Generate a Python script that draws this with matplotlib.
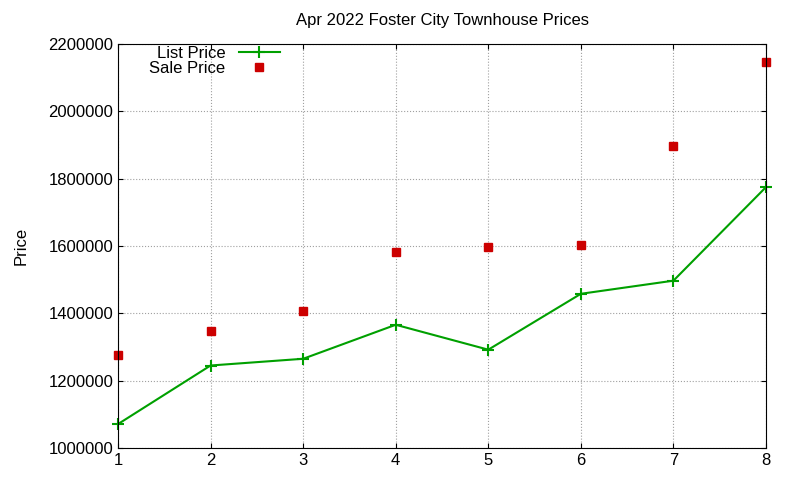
import matplotlib
matplotlib.use("Agg")
import matplotlib.pyplot as plt

plt.rcParams['font.family'] = ['Liberation Sans', 'DejaVu Sans']

months = [1, 2, 3, 4, 5, 6, 7, 8]
list_price = [1071000, 1245000, 1265000, 1366000, 1292000, 1458000, 1497000, 1775000]
sale_price = [1276000, 1348000, 1407000, 1582000, 1597000, 1603000, 1897000, 2147000]

fig = plt.figure(figsize=(8, 4.8), dpi=100)
ax = fig.add_axes([0.1475, 0.0667, 0.81, 0.8416])

ax.plot(months, list_price, color="#00a000", marker="+", markersize=8, markeredgewidth=1.5,
        linewidth=1.5, label="List Price", clip_on=False)
ax.plot(months, sale_price, color="#cc0000", marker="s", markersize=6, linestyle="none",
        label="Sale Price", clip_on=False)

ax.set_xlim(1, 8)
ax.set_ylim(1000000, 2200000)
ax.set_yticks(range(1000000, 2200001, 200000))
ax.ticklabel_format(axis="y", style="plain", useOffset=False)
ax.tick_params(direction="in", top=True, right=True, labelsize=12)
ax.grid(True, color="#a0a0a0", linestyle=":", linewidth=0.8)
ax.set_ylabel("Price", fontsize=12, labelpad=14)
ax.set_title("Apr 2022 Foster City Townhouse Prices", fontsize=12, pad=14)
ax.legend(loc="upper left", bbox_to_anchor=(0.03, 1.025), markerfirst=False, frameon=False,
          fontsize=12, handlelength=2.5, borderpad=0.2, labelspacing=0.0)

fig.savefig("out.png")
